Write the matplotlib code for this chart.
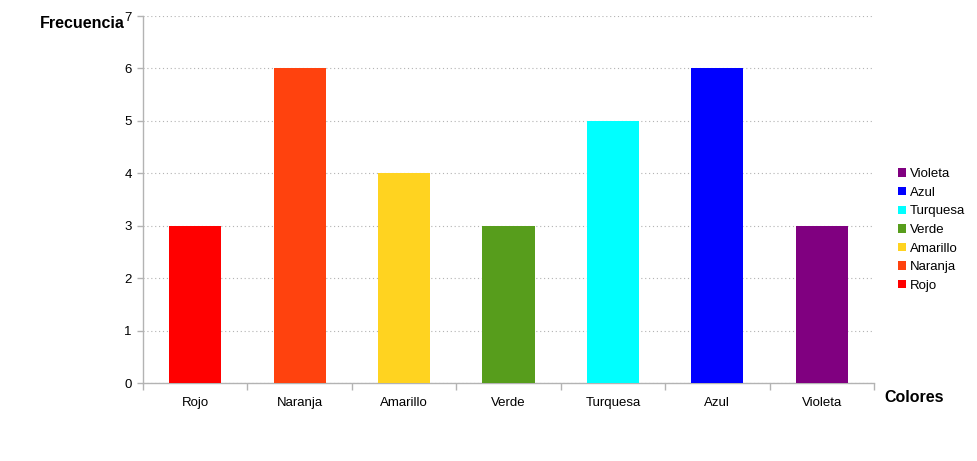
import matplotlib
matplotlib.use("Agg")
import matplotlib.pyplot as plt
from matplotlib.patches import Patch

plt.rcParams['font.family'] = ['Liberation Sans', 'DejaVu Sans']

categories = ["Rojo", "Naranja", "Amarillo", "Verde", "Turquesa", "Azul", "Violeta"]
values = [3, 6, 4, 3, 5, 6, 3]
colors = ["#ff0000", "#ff420e", "#ffd320", "#579d1c", "#00ffff", "#0000ff", "#800080"]
yticks = [0, 1, 2, 3, 4, 5, 6, 7]

fig = plt.figure(figsize=(9.77, 4.61), dpi=100)
ax = fig.add_axes([143/977, (461-383)/461, (874-143)/977, (383-16)/461])

x = list(range(len(categories)))
ax.bar(x, values, width=0.5, color=colors, zorder=3)

ax.set_xlim(-0.5, len(categories) - 0.5)
ax.set_ylim(0, 7)
ax.set_yticks(yticks)
ax.set_yticklabels([str(v) for v in yticks], fontsize=9.5)
ax.set_xticks(x)
ax.set_xticklabels(categories, fontsize=9.5)
ax.tick_params(axis='x', length=0, pad=10)
ax.set_xticks([i - 0.5 for i in range(len(categories) + 1)], minor=True)
ax.tick_params(axis='x', which='minor', length=5, color='#b3b3b3', width=1)
ax.tick_params(axis='y', length=4, color='#b3b3b3', width=1, pad=4)

ax.grid(axis='y', linestyle=(0, (1, 2.5)), color='#b3b3b3', linewidth=0.8, zorder=0)
for s in ['top', 'right']:
    ax.spines[s].set_visible(False)
for s in ['left', 'bottom']:
    ax.spines[s].set_color('#b3b3b3')
    ax.spines[s].set_linewidth(1)

fig.text(40/977, 1 - 23/461, "Frecuencia", fontsize=11.5, fontweight='bold', va='center', ha='left')
fig.text(884/977, 1 - 397/461, "Colores", fontsize=11.5, fontweight='bold', va='center', ha='left')

handles = [Patch(facecolor=c, label=l) for c, l in zip(colors, categories)][::-1]
leg = fig.legend(handles=handles, loc='center left', bbox_to_anchor=(893/977, 1 - 230/461),
                 frameon=False, fontsize=9.5, handlelength=0.6, handleheight=0.6,
                 handletextpad=0.3, labelspacing=0.5, borderaxespad=0)

fig.savefig("out.png", dpi=100)
